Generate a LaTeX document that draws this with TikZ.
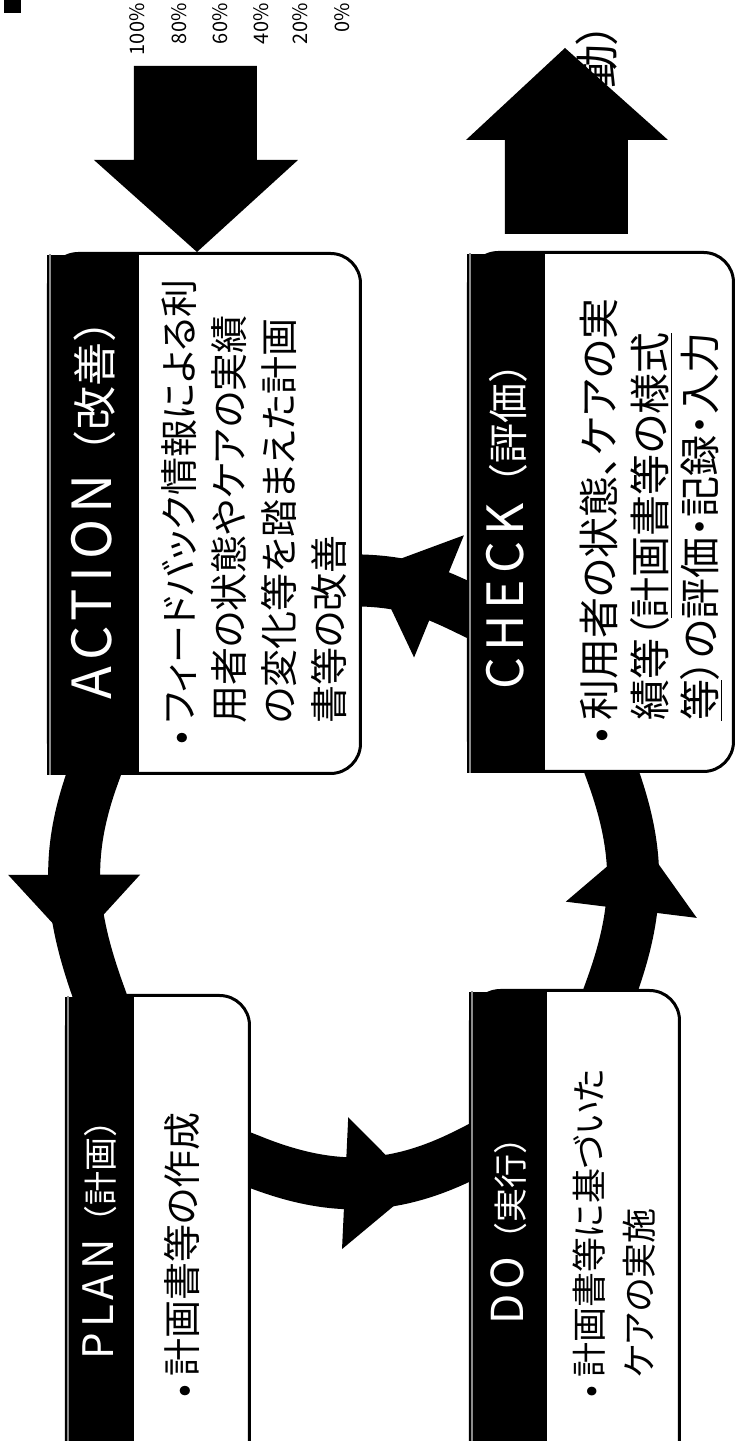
\documentclass[tikz,border=0pt]{standalone}
\usepackage{fontspec}
\setmainfont{Noto Sans CJK JP}[RawFeature=+palt]
\newfontfamily\hdfont{Noto Sans CJK JP}
\newfontfamily\hdlatin{Noto Sans CJK JP}[LetterSpace=12]
\newcommand\hdword[2]{{\hdlatin\fontsize{#1}{#1}\selectfont #2}}
\usetikzlibrary{positioning,calc,decorations.markings,backgrounds}

\tikzset{
  cardbody/.style={draw=black, line width=1.5pt, fill=white, rounded corners=15pt, inner sep=0pt, anchor=south west},
  cardhead/.style={fill=black, inner sep=0pt, anchor=north west},
  headedge/.style={draw=black!45, line width=1pt},
  cardtitle/.style={text=white, inner sep=0pt, anchor=west, font=\hdfont\fontsize{#1}{#1}\selectfont},
  cardtext/.style={inner sep=0pt, anchor=base west, font=\fontsize{#1}{25pt}\selectfont},
  cardtext/.default=19pt,
  cycarc/.style={draw=black, line width=26pt, line cap=rect},
  cychead/.style={postaction={decorate, decoration={markings,
      mark=at position #1 with {\fill[black] (0pt,33pt) -- (36pt,0pt) -- (0pt,-33pt) -- cycle;}}}},
  bigarrow/.style={fill=black},
  pctlabel/.style={inner sep=0pt, anchor=base east, font=\fontsize{10pt}{10pt}\selectfont}
}

\begin{document}
\begin{tikzpicture}[x=0.5pt, y=0.5pt, rotate=90, transform shape]
  \useasboundingbox (0,0) rectangle (1441,737);
  \clip (0,0) rectangle (1441,737);

  % scraps of the neighbouring chart
  \fill (1428,716) rectangle (1441,733);
  \foreach \pct/\v in {100/592, 80/550, 60/509, 40/468, 20/429, 0/387}
    \node[pctlabel] (pct\pct) at (1438,\v) {\pct\%};
  \node[cardtext=22pt] (katsudo) at (1352,123) {動）};

  % feedback arrows
  \fill[bigarrow] (1375,480) -- (1281,480) -- (1281,439) -- (1189,540) -- (1281,643) -- (1281,603) -- (1375,603) -- cycle;
  \fill[bigarrow] (1207,109) -- (1301,109) -- (1301,69) -- (1393,172) -- (1301,271) -- (1301,232) -- (1207,232) -- cycle;

  % cards
  \node[cardbody, minimum width=260pt, minimum height=156pt] (actbody) at (666,375) {};
  \node[cardhead, minimum width=260pt, minimum height=46pt] (acthead) at (actbody.north west) {};
  \node[cardbody, minimum width=259.5pt, minimum height=132.5pt] (chkbody) at (668,2) {};
  \node[cardhead, minimum width=259.5pt, minimum height=39pt] (chkhead) at (chkbody.north west) {};
  \node[cardbody, minimum width=242pt, minimum height=91.5pt] (planbody) at (-40,486) {};
  \node[cardhead, minimum width=242pt, minimum height=34.5pt] (planhead) at (planbody.north west) {};
  \node[cardbody, minimum width=244.5pt, minimum height=104.5pt] (dobody) at (-40,56) {};
  \node[cardhead, minimum width=244.5pt, minimum height=39pt] (dohead) at (dobody.north west) {};
  \foreach \h in {acthead,chkhead,planhead,dohead}
    \draw[headedge] ($(\h.north west)+(0,-3)$) -- ($(\h.north east)+(0,-3)$);

  % titles
  \node[cardtitle=22pt] (acttitle) at ($(acthead.west)+(75,0)$) {\hdword{27pt}{ACTION}（改善）};
  \node[cardtitle=20pt] (chktitle) at ($(chkhead.west)+(83,0)$) {\hdword{25pt}{CHECK}（評価）};
  \node[cardtitle=17pt] (plantitle) at ($(planhead.west)+(121,0)$) {\hdword{21pt}{PLAN}（計画）};
  \node[cardtitle=17pt] (dotitle) at ($(dohead.west)+(156,0)$) {\hdword{22pt}{DO}（実行）};

  % texts
  \node[cardtext] (acttext) at ($(actbody.north west)+(30,-147)$) {%
    \begin{tabular}[t]{@{}l@{\hspace{4pt}}l@{}}
      •&フィードバック情報による利\\
       &用者の状態やケアの実績\\
       &の変化等を踏まえた計画\\
       &書等の改善
    \end{tabular}};
  \node[cardtext=20.5pt] (chktext) at ($(chkbody.north west)+(30,-148)$) {%
    \begin{tabular}[t]{@{}l@{\hspace{4pt}}l@{}}
      •&利用者の状態、ケアの実\\
       &績等（\underline{計画書等の様式}\\
       &\underline{等}）の評価・記録・入力
    \end{tabular}};
  \node[cardtext] (plantext) at ($(planbody.north west)+(83,-132)$) {%
    \begin{tabular}[t]{@{}l@{\hspace{4pt}}l@{}}
      •&計画書等の作成
    \end{tabular}};
  \node[cardtext=17.5pt] (dotext) at ($(dobody.north west)+(83,-134)$) {%
    \begin{tabular}[t]{@{}l@{\hspace{4pt}}l@{}}
      •&計画書等に基づいた\\
       &ケアの実施
    \end{tabular}};

  % the cycle
  \begin{pgfonlayer}{background}
    \draw[cycarc, cychead=0.45] (acthead.west) to[out=160, in=20] (planhead.east);
    \draw[cycarc, cychead=0.43] ($(planbody.south)+(77,0)$) to[out=248, in=117] ($(dohead.north)+(83,0)$);
    \draw[cycarc, cychead=0.37] ($(dobody.east)+(0,-36)$) to[out=-20, in=200] ($(chkbody.west)+(0,-11)$);
    \draw[cycarc, cychead=0.28] ($(chkhead.north)+(-96,0)$) to[out=64, in=268] ($(actbody.south)+(-67,0)$);
  \end{pgfonlayer}
\end{tikzpicture}
\end{document}
